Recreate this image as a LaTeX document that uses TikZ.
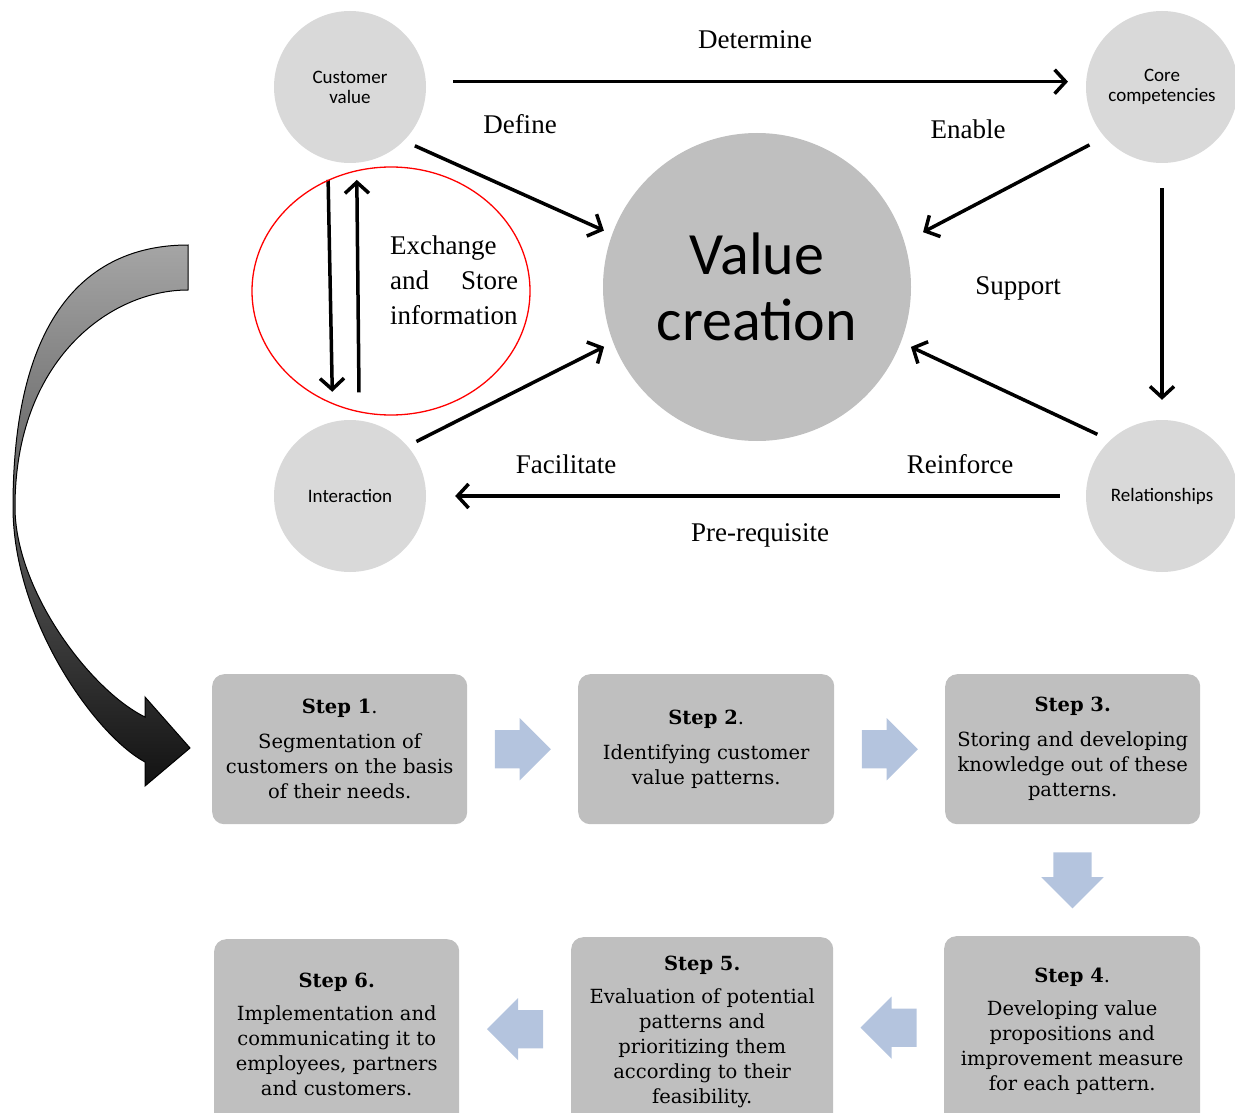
\documentclass[tikz,border=0pt]{standalone}
\usepackage{fontspec}
\setmainfont{Liberation Serif}
\newfontfamily\calibfont{Carlito}
\newfontfamily\stepfont{DejaVu Serif}
\usetikzlibrary{arrows.meta,shapes.geometric,shapes.arrows,calc}

\definecolor{circlegray}{RGB}{217,217,217}
\definecolor{coregray}{RGB}{191,191,191}
\definecolor{boxgray}{RGB}{191,191,191}
\definecolor{flowblue}{RGB}{180,196,222}
\definecolor{twistlight}{RGB}{165,165,165}
\definecolor{twistdark}{RGB}{18,18,18}

\tikzset{
  factor/.style={circle, fill=circlegray, minimum size=152pt, inner sep=0pt, align=center,
    font=\calibfont\fontsize{19}{20}\selectfont},
  link/.style={line width=3.5pt, -{Straight Barb[length=11pt,width=24pt]}},
  lbl/.style={font=\fontsize{27}{35}\selectfont, inner sep=0pt},
  stepbox/.style={rounded corners=12pt, fill=boxgray, minimum width=256pt, minimum height=150pt,
    anchor=north west, align=center, inner sep=3pt, font=\stepfont\fontsize{19.5}{25}\selectfont},
  flow/.style={single arrow, fill=flowblue, minimum height=56pt, inner xsep=0pt, inner ysep=19pt,
    single arrow head extend=12pt, anchor=tail},
}

\begin{document}
\begin{tikzpicture}[x=1pt,y=-1pt]
\useasboundingbox (0,0) rectangle (1235,1113);

% the five factors
\node[factor] (cv) at (350,87) {Customer\\value};
\node[factor] (cc) at (1162,87) {Core\\competencies};
\node[factor] (ia) at (350,496) {Interaction};
\node[factor] (rel) at (1162,496) {Relationships};
\node[circle, fill=coregray, minimum size=308pt, inner sep=0pt, align=center,
  font=\calibfont\fontsize{60}{66}\selectfont] (vc) at (757,287) {Value\\creation};

% links between the factors
\draw[link, shorten <=27pt, shorten >=18pt] (cv.4) -- (cc.176);
\draw[link, shorten <=12pt, shorten >=9pt] (cv.-45) -- (vc.160);
\draw[link, shorten <=17pt, shorten >=21pt] (cc.-139) -- (vc.17);
\draw[link, shorten <=25pt, shorten >=20pt] (cc) -- (rel);
\draw[link, shorten <=14pt, shorten >=11pt] (rel.133) -- (vc.-21);
\draw[link, shorten <=10pt, shorten >=10pt] (ia.41) -- (vc.-159);
\draw[link, shorten <=26pt, shorten >=29pt] (rel) -- (ia);
\draw[link, shorten <=20pt, shorten >=30pt] (cv.253) -- (ia.103);
\draw[link, shorten <=28pt, shorten >=17pt] (ia.83) -- (cv.-85.5);

% information loop
\node[ellipse, draw=red, line width=1.3pt, minimum width=278pt, minimum height=248pt] (loop) at (391,291) {};
\node[lbl, anchor=west, text width=128pt, align=left] (tExchange) at (390,280)
  {Exchange\\and\hfill Store\\information};

% link labels
\node[lbl] (tDetermine) at (755,40) {Determine};
\node[lbl] (tDefine) at (520,124) {Define};
\node[lbl] (tEnable) at (968,129) {Enable};
\node[lbl] (tSupport) at (1018,288) {Support};
\node[lbl] (tFacilitate) at (566,464) {Facilitate};
\node[lbl] (tReinforce) at (960,464) {Reinforce};
\node[lbl] (tPrereq) at (760,535) {Pre-requisite};

% twisted arrow down to the steps
\shade[top color=twistlight, bottom color=twistdark, draw=black, line width=1pt]
  (188,245) .. controls (100,245) and (13,300) .. (13,507)
  .. controls (13,620) and (95,735) .. (145,762)
  -- (145,786) -- (190,748) -- (145,697) -- (145,717)
  .. controls (90,690) and (15,590) .. (15,507)
  .. controls (15,360) and (110,290) .. (188,290) -- cycle;

% steps
\node[stepbox, minimum width=255pt] (s1) at (212,674)
  {\textbf{Step 1}.\\[10pt]Segmentation of\\customers on the basis\\of their needs.};
\node[stepbox] (s2) at (578,674)
  {\textbf{Step 2}.\\[10pt]Identifying customer\\value patterns.};
\node[stepbox, minimum width=255pt] (s3) at (945,674)
  {\textbf{Step 3.}\\[10pt]Storing and developing\\knowledge out of these\\patterns.};
\node[stepbox, minimum height=190pt] (s4) at (944,936)
  {\textbf{Step 4}.\\[8pt]Developing value\\propositions and\\improvement measure\\for each pattern.};
\node[stepbox, minimum width=262pt, minimum height=190pt] (s5) at (571,937)
  {\textbf{Step 5.}\\[8pt]Evaluation of potential\\patterns and\\prioritizing them\\according to their\\feasibility.};
\node[stepbox, minimum width=245pt, minimum height=190pt] (s6) at (214,939)
  {\textbf{Step 6.}\\[8pt]Implementation and\\communicating it to\\employees, partners\\and customers.};

% arrows between the steps
\node[flow] (f12) at ($(s1.east)!0.5!(s2.west)+(-28,0)$) {};
\node[flow] (f23) at ($(s2.east)!0.5!(s3.west)+(-28,0)$) {};
\node[flow, rotate=-90] (f34) at ($(s3.south)!0.5!(s4.north)+(0,-28)$) {};
\node[flow, rotate=180] (f45) at ($(s4.west)!0.5!(s5.east)+(28,-4)$) {};
\node[flow, rotate=180] (f56) at ($(s5.west)!0.5!(s6.east)+(28,-4)$) {};
\end{tikzpicture}
\end{document}
